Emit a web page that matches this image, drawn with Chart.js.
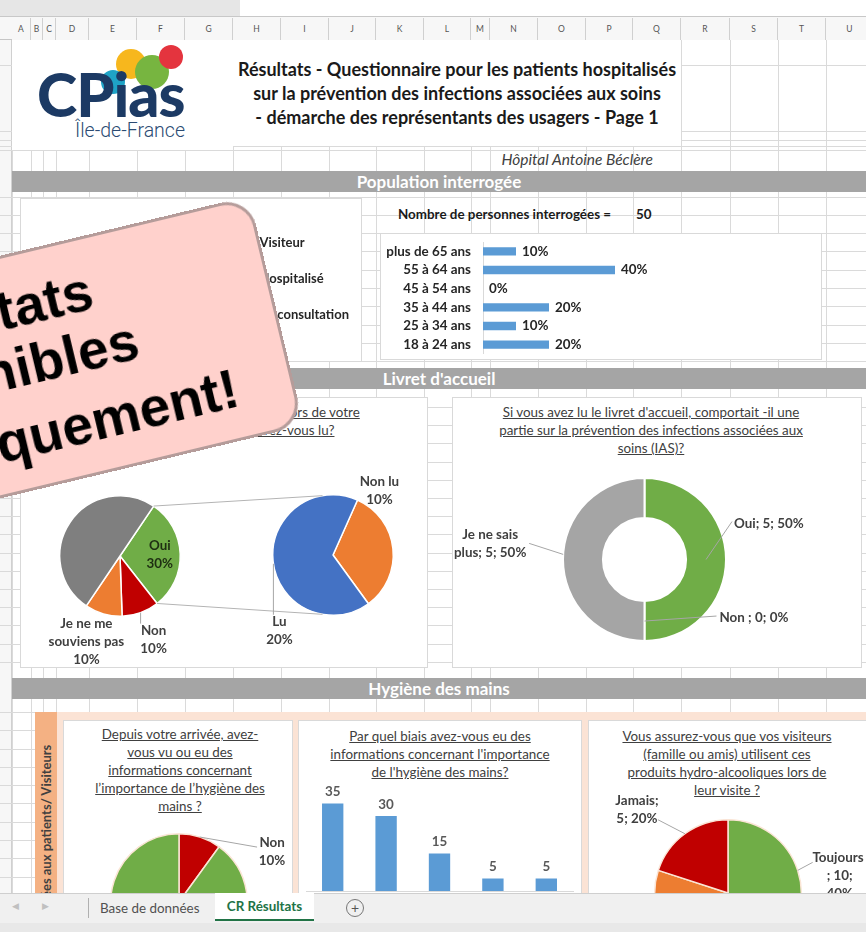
<!DOCTYPE html>
<html lang="fr"><head><meta charset="utf-8">
<script src="https://cdn.jsdelivr.net/npm/chart.js@4.4.1/dist/chart.umd.min.js"></script>
<style>
html,body{margin:0;padding:0}
body{width:866px;height:932px;overflow:hidden;position:relative;background:#fff;font-family:Lato,"Open Sans",sans-serif;color:#404040}
.a{position:absolute}
.gl{position:absolute;background:#dadada}
.box{position:absolute;background:#fff;border:1px solid #d9d9d9;box-sizing:border-box}
.band{position:absolute;left:12px;width:854px;height:21px;background:#a5a5a5;color:#fff;font-weight:bold;font-size:17px;text-align:center;line-height:21px;z-index:3}
.ttl{position:absolute;text-align:center;text-decoration:underline;font-size:13.4px;line-height:18px;color:#404040;z-index:4;white-space:nowrap}
canvas{position:absolute;z-index:5}
.hdr{position:absolute;top:18px;height:22px;line-height:22px;font-size:8.5px;color:#555;text-align:center;border-right:1px solid #d0d0d0;box-sizing:border-box;background:#f7f7f7}
</style></head><body>
<script>
// ---------------- DATA ----------------
const ageLabels = ['plus de 65 ans','55 à 64 ans','45 à 54 ans','35 à 44 ans','25 à 34 ans','18 à 24 ans'];
const agePct = [10,40,0,20,10,20];
const nbPersonnes = 50;
const profilLabels = ['Visiteur','Hospitalisé','En consultation'];
const profilValues = [10,30,10];
const livretLabels = ['Oui','Non','Je ne me souviens pas','Non renseigné'];
const livretPct = [30,10,10,50];
const lectureLabels = ['Non lu','Lu'];
const lecturePct = [10,20];
const iasLabels = ['Oui','Non ','Je ne sais plus'];
const iasCounts = [5,0,5];
const iasPct = [50,0,50];
const infoLabels = ['Non','Oui'];
const infoPct = [10,90];
const biaisLabels = ['Affiches','Personnel','Livret d\'accueil','Médias','Autre'];
const biaisValues = [35,30,15,5,5];
const visiteLabels = ['Toujours ','Souvent','Parfois','Jamais'];
const visiteCounts = [10,5,5,5];
const visitePct = [40,20,20,20];
</script>

<!-- top strip -->
<div class="a" style="left:0;top:0;width:240px;height:16px;background:#e6e6e6"></div>
<div class="a" style="left:0;top:16px;width:866px;height:1px;background:#c8c8c8"></div>
<div class="a" style="left:0;top:17px;width:866px;height:23px;background:#f7f7f7;border-bottom:1px solid #c6c6c6;box-sizing:border-box"></div>
<div class="a" style="left:0;top:40px;width:12px;height:853px;background:#f7f7f7;border-right:1px solid #d0d0d0;box-sizing:border-box"></div>
<div id="grid"></div>

<!-- logo + title -->
<div class="a" style="left:12px;top:40px;width:221px;height:110px;background:#fff;z-index:2"></div>
<div class="a" style="left:233px;top:40px;width:448px;height:106px;background:#fff;z-index:2"></div>
<div class="a" style="left:116px;top:49px;width:30px;height:30px;border-radius:50%;background:#f7b71d;z-index:3"></div>
<div class="a" style="left:135px;top:55px;width:34px;height:34px;border-radius:50%;background:#77b540;z-index:3"></div>
<div class="a" style="left:101px;top:70px;width:24px;height:24px;border-radius:50%;background:#1fa3c6;z-index:3"></div>
<div class="a" style="left:159px;top:45px;width:24px;height:24px;border-radius:50%;background:#e4343e;z-index:3"></div>
<div class="a" style="left:37px;top:63px;font-size:61px;font-weight:900;color:#1c3a64;letter-spacing:-1px;line-height:61px;z-index:3">CPias</div>
<div class="a" style="left:75px;top:119px;font-family:Roboto,sans-serif;font-weight:300;font-size:19.5px;color:#2b4b73;z-index:3">Île-de-France</div>
<div class="a" style="left:233px;top:57px;width:448px;text-align:center;font-weight:bold;font-size:18px;line-height:24px;color:#1a1a1a;z-index:3;white-space:nowrap">Résultats - Questionnaire pour les patients hospitalisés<br>sur la prévention des infections associées aux soins<br>- démarche des représentants des usagers - Page 1</div>
<div class="a" style="left:380px;top:149px;width:273px;text-align:right;font-style:italic;font-size:15.5px;line-height:20px;color:#404040;z-index:3">Hôpital Antoine Béclère</div>

<!-- bands -->
<div class="band" style="top:171px">Population interrogée</div>
<div class="band" style="top:368px">Livret d'accueil</div>
<div class="band" style="top:678px">Hygiène des mains</div>

<!-- population -->
<div class="box" style="left:20px;top:198px;width:342px;height:164px;z-index:2"></div>
<div class="a" style="left:398px;top:205px;font-weight:bold;font-size:13.4px;line-height:18px;color:#1a1a1a;z-index:3">Nombre de personnes interrogées =</div>
<div class="a" id="nb" style="left:636px;top:205px;font-weight:bold;font-size:13.4px;line-height:18px;color:#1a1a1a;z-index:3"></div>
<div class="box" style="left:380px;top:233px;width:442px;height:127px;z-index:2"></div>

<!-- livret -->
<div class="box" style="left:20px;top:397px;width:408px;height:271px;z-index:2"></div>
<div class="ttl" style="left:20px;width:408px;top:403px">Avez-vous reçu un livret d'accueil lors de votre<br>hospitalisation ? Si oui, l'avez-vous lu?</div>
<div class="box" style="left:452px;top:397px;width:410px;height:271px;z-index:2"></div>
<div class="ttl" style="left:452px;width:398px;top:403px">Si vous avez lu le livret d'accueil, comportait -il une<br>partie sur la prévention des infections associées aux<br>soins (IAS)?</div>

<!-- hygiene -->
<div class="a" style="left:35px;top:712px;width:831px;height:181px;background:#fbe3d5;z-index:2"></div>
<div class="a" style="left:35px;top:712px;width:22px;height:181px;background:#f4b183;z-index:3;overflow:hidden">
  <div class="a" style="left:0;top:33px;width:22px;height:300px;writing-mode:vertical-rl;transform:rotate(180deg);text-align:end;font-weight:bold;font-size:13px;line-height:22px;color:#404040;white-space:nowrap">Questions posées aux patients/ Visiteurs</div>
</div>
<div class="box" style="left:63px;top:720px;width:230px;height:180px;z-index:3"></div>
<div class="box" style="left:298px;top:720px;width:284px;height:180px;z-index:3"></div>
<div class="box" style="left:588px;top:720px;width:290px;height:180px;z-index:3"></div>
<div class="ttl" style="left:63px;width:234px;top:725px">Depuis votre arrivée, avez-<br>vous vu ou eu des<br>informations concernant<br>l’importance de l’hygiène des<br>mains ?</div>
<div class="ttl" style="left:298px;width:284px;top:727px">Par quel biais avez-vous eu des<br>informations concernant l'importance<br>de l'hygiène des mains?</div>
<div class="ttl" style="left:588px;width:278px;top:727px">Vous assurez-vous que vos visiteurs<br>(famille ou amis) utilisent ces<br>produits hydro-alcooliques lors de<br>leur visite ?</div>

<!-- sticker -->
<div class="a" style="left:-201px;top:196px;width:450px;height:236px;background:#ffd1cc;border:3px solid #b59c9a;border-radius:30px;transform-origin:100% 0;transform:rotate(-13.5deg);box-sizing:border-box;z-index:50;font-family:'Liberation Sans',Arial,sans-serif;font-weight:bold;font-size:55px;line-height:55px;color:#000;white-space:nowrap">
  <div class="a" style="right:172px;top:24px">Résultats</div>
  <div class="a" style="right:139px;top:83px">disponibles</div>
  <div class="a" style="right:53px;top:153px">numériquement!</div>
</div>

<!-- tab bar -->
<div class="a" style="left:0;top:893px;width:866px;height:39px;background:#f0f0f0;border-top:1px solid #cfcfcf;box-sizing:border-box;z-index:60;font-size:13.4px">
  <div class="a" style="left:12px;top:6px;color:#c0c0c0;font-size:9px">&#9664;</div>
  <div class="a" style="left:42px;top:6px;color:#c0c0c0;font-size:9px">&#9654;</div>
  <div class="a" style="left:88px;top:4px;width:1px;height:20px;background:#b0b0b0"></div>
  <div class="a" style="left:100px;top:6px;color:#505050">Base de données</div>
  <div class="a" style="left:215px;top:-1px;width:99px;height:28px;background:#fff;border-bottom:2px solid #217346;box-sizing:border-box;text-align:center;line-height:26px;color:#217346;font-weight:bold">CR Résultats</div>
  <div class="a" style="left:346px;top:5px;width:16px;height:16px;border:1px solid #777;border-radius:50%;text-align:center;line-height:15px;color:#555;font-size:14px">+</div>
  <div class="a" style="left:0;top:29px;width:866px;height:10px;background:#e8e8e8"></div>
</div>

<script>
// grid + column headers (decoration)
(function(){
  const g=document.getElementById('grid');
  const colEdges=[12,31,43,56,89,137,185,233,281,329,376,424,471,490,538,586,633,681,730,778,826,874];
  const names='ABCDEFGHIJKLMNOPQRSTU'.split('');
  names.forEach((n,i)=>{const d=document.createElement('div');d.className='hdr';d.style.left=colEdges[i]+'px';d.style.width=(colEdges[i+1]-colEdges[i])+'px';d.textContent=n;document.body.appendChild(d);});
  colEdges.forEach(x=>{const d=document.createElement('div');d.className='gl';d.style.left=x+'px';d.style.top='40px';d.style.width='1px';d.style.height='853px';g.appendChild(d);});
  const rows=[65,131,140,146,150];
  for(let y=196.5;y<368;y+=18.3) rows.push(y);
  for(let y=407;y<678;y+=18.2) rows.push(y);
  for(let y=712;y<893;y+=18.3) rows.push(y);
  rows.forEach(y=>{const d=document.createElement('div');d.className='gl';d.style.left='0px';d.style.top=Math.round(y)+'px';d.style.width='866px';d.style.height='1px';g.appendChild(d);});
  document.getElementById('nb').textContent=nbPersonnes;
})();

const GREEN='#70ad47', RED='#c00000', ORANGE='#ed7d31', GRAY='#7f7f7f', LGRAY='#a5a5a5', BLUE='#4472c4', BAR='#5b9bd5', YELLOW='#ffc000';
const LBL='#404040';
const LFONT="bold 13.4px Lato, 'Open Sans', sans-serif";
Chart.defaults.font.family="Lato, 'Open Sans', sans-serif";
Chart.defaults.color=LBL;
Chart.defaults.animation=false;
Chart.defaults.events=[];
Chart.defaults.plugins.legend.display=false;
Chart.defaults.plugins.tooltip.enabled=false;

function mk(x,y,w,h,z){const c=document.createElement('canvas');c.width=w;c.height=h;c.style.left=x+'px';c.style.top=y+'px';c.style.width=w+'px';c.style.height=h+'px';if(z)c.style.zIndex=z;document.body.appendChild(c);return c;}

function wrapText(ctx,text,maxW){
  const out=[];
  text.split('\n').forEach(seg=>{
    const words=seg.split(' ');let line='';
    words.forEach(w=>{const t=line?line+' '+w:w;if(line&&ctx.measureText(t).width>maxW){out.push(line);line=w;}else line=t;});
    out.push(line);
  });
  return out;
}
const sliceLabels={id:'sliceLabels',afterDatasetsDraw(chart,args,opts){
  const ctx=chart.ctx;const meta=chart.getDatasetMeta(0);
  (opts.items||[]).forEach(it=>{
    const arc=meta.data[it.i];if(!arc)return;
    const p=arc.getProps(['x','y','startAngle','endAngle','innerRadius','outerRadius'],true);
    const a=p.startAngle+(p.endAngle-p.startAngle)*(it.frac===undefined?0.5:it.frac);
    const r=it.ring?(p.innerRadius+p.outerRadius)/2:p.outerRadius*(it.k===undefined?1:it.k);
    const ax=p.x+Math.cos(a)*r, ay=p.y+Math.sin(a)*r;
    ctx.save();
    if(it.leader){ctx.strokeStyle='#a6a6a6';ctx.lineWidth=1;ctx.beginPath();ctx.moveTo(ax,ay);ctx.lineTo(ax+it.leader[0],ay+it.leader[1]);ctx.stroke();}
    ctx.font=LFONT;ctx.fillStyle=it.color||LBL;
    ctx.textAlign=it.align||'center';ctx.textBaseline='middle';
    const lines=wrapText(ctx,it.text,it.maxWidth||1000);const lh=18;
    const tx=ax+(it.dx||0), ty=ay+(it.dy||0)-(lines.length-1)*lh/2;
    lines.forEach((l,j)=>ctx.fillText(l,tx,ty+j*lh));
    ctx.restore();
  });
}};
const barValues={id:'barValues',afterDatasetsDraw(chart,args,opts){
  const ctx=chart.ctx;const meta=chart.getDatasetMeta(0);const ds=chart.data.datasets[0];
  ctx.save();ctx.font=opts.font;ctx.fillStyle=opts.color;
  meta.data.forEach((b,i)=>{const t=ds.data[i]+(opts.suffix||'');
    if(chart.options.indexAxis==='y'){ctx.textAlign='left';ctx.textBaseline='middle';ctx.fillText(t,b.x+opts.offset,b.y);}
    else{ctx.textAlign='center';ctx.textBaseline='bottom';ctx.fillText(t,b.x,b.y-opts.offset);}
  });ctx.restore();
}};

// --- Profil (pie + legend) ---
new Chart(mk(21,199,340,162),{type:'pie',
  data:{labels:profilLabels,datasets:[{data:profilValues,radius:45,backgroundColor:[BAR,ORANGE,LGRAY],borderColor:'#fff',borderWidth:1}]},
  options:{responsive:false,layout:{padding:{left:0,right:2,top:10,bottom:12}},
    plugins:{legend:{display:true,position:'right',labels:{boxWidth:8,boxHeight:8,padding:23,color:'#262626',font:{size:13,weight:'bold'}}}}}});

// --- Age bars ---
new Chart(mk(380,222,433,152),{type:'bar',
  data:{labels:ageLabels,datasets:[{data:agePct,backgroundColor:BAR,categoryPercentage:1,barPercentage:0.45}]},
  options:{responsive:false,indexAxis:'y',layout:{padding:{left:6,right:0,top:0,bottom:0}},
    scales:{x:{display:false,min:0,max:100},
      y:{grid:{display:false,drawTicks:false},border:{color:'#d9d9d9'},ticks:{font:{weight:'bold',size:13.4},color:'#262626',padding:12},afterFit(s){s.width=97;}}},
    plugins:{barValues:{suffix:'%',offset:6,font:LFONT,color:'#262626'}}},
  plugins:[barValues]});

// --- Livret: pie of pie ---
const livretMain=new Chart(mk(20,397,408,271),{type:'pie',
  data:{labels:livretLabels,datasets:[{data:livretPct,backgroundColor:[GREEN,RED,ORANGE,GRAY],borderColor:'#fff',borderWidth:1.5}]},
  options:{responsive:false,rotation:34,layout:{padding:{left:39,right:247,top:98,bottom:51}},
    plugins:{sliceLabels:{items:[
      {i:0,k:0.66,color:'#1e2e12',text:`${livretLabels[0]}\n${livretPct[0]}%`},
      {i:1,k:1,leader:[0,11],dx:13,dy:27,text:`${livretLabels[1]}\n${livretPct[1]}%`},
      {i:2,k:1,dx:-17,dy:28,maxWidth:86,text:`${livretLabels[2]}\n${livretPct[2]}%`}
    ]}}},plugins:[sliceLabels]});
const connector={id:'connector',afterDatasetsDraw(chart){
  const ctx=chart.ctx;
  const p=livretMain.getDatasetMeta(0).data[0].getProps(['x','y','startAngle','endAngle','outerRadius'],true);
  const s=chart.getDatasetMeta(0).data[0].getProps(['x','y','outerRadius'],true);
  const off=10*Math.PI/180;
  const a1=-Math.PI/2-off, a2=Math.PI/2+off;
  ctx.save();ctx.strokeStyle='#b4b4b4';ctx.lineWidth=1;ctx.beginPath();
  ctx.moveTo(p.x+Math.cos(p.startAngle)*p.outerRadius,p.y+Math.sin(p.startAngle)*p.outerRadius);
  ctx.lineTo(s.x+Math.cos(a1)*s.outerRadius,s.y+Math.sin(a1)*s.outerRadius);
  ctx.moveTo(p.x+Math.cos(p.endAngle)*p.outerRadius,p.y+Math.sin(p.endAngle)*p.outerRadius);
  ctx.lineTo(s.x+Math.cos(a2)*s.outerRadius,s.y+Math.sin(a2)*s.outerRadius);
  ctx.stroke();ctx.restore();
}};
new Chart(mk(20,397,408,271,6),{type:'pie',
  data:{labels:lectureLabels,datasets:[{data:lecturePct,backgroundColor:[ORANGE,BLUE],borderColor:'#fff',borderWidth:1.5}]},
  options:{responsive:false,rotation:24,layout:{padding:{left:252,right:34,top:97,bottom:52}},
    plugins:{sliceLabels:{items:[
      {i:0,frac:0.1,k:1.31,text:`${lectureLabels[0]}\n${lecturePct[0]}%`},
      {i:1,frac:0.49,k:1,leader:[0,51],dx:6,dy:67,text:`${lectureLabels[1]}\n${lecturePct[1]}%`}
    ]}}},plugins:[connector,sliceLabels]});

// --- IAS doughnut ---
new Chart(mk(452,397,410,271),{type:'doughnut',
  data:{labels:iasLabels,datasets:[{data:iasCounts,backgroundColor:[GREEN,RED,LGRAY],borderColor:'#fff',borderWidth:2}]},
  options:{responsive:false,cutout:'51%',layout:{padding:{left:110,right:135,top:80,bottom:26}},
    plugins:{sliceLabels:{items:[
      {i:0,ring:true,leader:[26,-38],dx:28,dy:-36,align:'left',text:`${iasLabels[0]}; ${iasCounts[0]}; ${iasPct[0]}%`},
      {i:1,ring:true,leader:[72,-5],dx:75,dy:-3,align:'left',text:`${iasLabels[1]}; ${iasCounts[1]}; ${iasPct[1]}%`},
      {i:2,frac:0.52,k:1,leader:[-34,-11],dx:-73,dy:-11,maxWidth:82,text:`${iasLabels[2]}; ${iasCounts[2]}; ${iasPct[2]}%`}
    ]}}},plugins:[sliceLabels]});

// --- Hygiène: info pie ---
new Chart(mk(63,720,230,260,7),{type:'pie',
  data:{labels:infoLabels,datasets:[{data:infoPct,backgroundColor:[RED,GREEN],borderColor:'#fbe5d6',borderWidth:1.5}]},
  options:{responsive:false,layout:{padding:{left:47,right:45,top:113,bottom:9}},
    plugins:{sliceLabels:{items:[
      {i:0,k:1,leader:[57,10],dx:72,dy:15,text:`${infoLabels[0]}\n${infoPct[0]}%`},
      {i:1,k:0.6,text:`${infoLabels[1]}\n${infoPct[1]}%`}
    ]}}},plugins:[sliceLabels]});

// --- Hygiène: biais bars ---
new Chart(mk(298,780,284,151,7),{type:'bar',
  data:{labels:biaisLabels,datasets:[{data:biaisValues,backgroundColor:BAR,categoryPercentage:1,barPercentage:0.4}]},
  options:{responsive:false,layout:{padding:{left:8,right:9,top:11,bottom:0}},
    scales:{y:{display:false,min:0,max:40},
      x:{grid:{display:false,drawTicks:false},border:{color:'#d9d9d9'},ticks:{font:{size:11},color:'#595959',maxRotation:0,autoSkip:false},afterFit(s){s.height=40;}}},
    plugins:{barValues:{offset:5,font:LFONT,color:'#595959'}}},
  plugins:[barValues]});

// --- Hygiène: visite pie ---
new Chart(mk(588,720,280,260,7),{type:'pie',
  data:{labels:visiteLabels,datasets:[{data:visiteCounts,backgroundColor:[GREEN,YELLOW,ORANGE,RED],borderColor:'#fbe5d6',borderWidth:1.5}]},
  options:{responsive:false,layout:{padding:{left:66,right:66,top:99,bottom:13}},
    plugins:{sliceLabels:{items:[
      {i:0,k:1,leader:[15,-8],dx:42,dy:5,text:`${visiteLabels[0]}\n; ${visiteCounts[0]};\n${visitePct[0]}%`},
      {i:1,k:1.15,text:`${visiteLabels[1]}; ${visiteCounts[1]}; ${visitePct[1]}%`},
      {i:2,k:1.15,maxWidth:60,text:`${visiteLabels[2]}; ${visiteCounts[2]}; ${visitePct[2]}%`},
      {i:3,k:1,leader:[-27,-14],dx:-48,dy:-24,text:`${visiteLabels[3]};\n${visiteCounts[3]}; ${visitePct[3]}%`}
    ]}}},plugins:[sliceLabels]});
</script>
</body></html>
